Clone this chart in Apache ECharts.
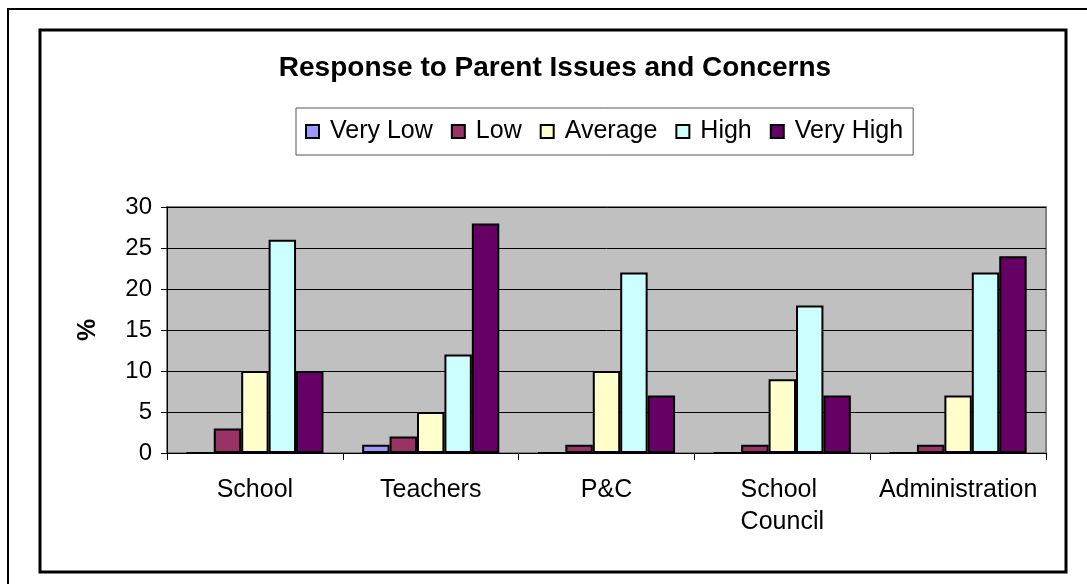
<!DOCTYPE html>
<html>
<head>
<meta charset="utf-8">
<script src="https://cdn.jsdelivr.net/npm/echarts@6/dist/echarts.min.js"></script>
<style>
html,body{margin:0;padding:0;background:#fff;}
#chart{width:1087px;height:584px;}
</style>
</head>
<body>
<div id="chart"></div>
<script>
const categories = ['School', 'Teachers', 'P&C', 'School Council', 'Administration'];
const seriesNames = ['Very Low', 'Low', 'Average', 'High', 'Very High'];
const veryLow = [0, 1, 0, 0, 0];
const low = [3, 2, 1, 1, 1];
const average = [10, 5, 10, 9, 7];
const high = [26, 12, 22, 18, 22];
const veryHigh = [10, 28, 7, 7, 24];
const yTicks = [0, 5, 10, 15, 20, 25, 30];
const colors = ['#9999FF', '#993366', '#FFFFCC', '#CCFFFF', '#660066'];

const values = [veryLow, low, average, high, veryHigh];
const FONT = '"Liberation Sans", Arial, sans-serif';

const chart = echarts.init(document.getElementById('chart'), null, {renderer: 'canvas'});
chart.setOption({
  animation: false,
  backgroundColor: '#ffffff',
  textStyle: {fontFamily: FONT, color: '#000'},
  graphic: [
    {type: 'rect', shape: {x: 8, y: 9, width: 1100, height: 600}, style: {fill: 'none', stroke: '#000', lineWidth: 2}, silent: true, z: 0},
    {type: 'rect', shape: {x: 40, y: 30, width: 1026, height: 542}, style: {fill: 'none', stroke: '#000', lineWidth: 3}, silent: true, z: 0},
    {type: 'text', x: 555, y: 68, style: {text: 'Response to Parent Issues and Concerns', font: 'bold 28px ' + FONT, fill: '#000', align: 'center', verticalAlign: 'middle'}, silent: true}
  ],
  legend: {
    data: seriesNames,
    left: 296,
    top: 108,
    padding: [11, 10, 11, 9],
    borderColor: '#555',
    borderWidth: 1,
    backgroundColor: '#fff',
    itemWidth: 13,
    itemHeight: 13,
    itemGap: 18,
    icon: 'rect',
    itemStyle: {borderColor: '#000', borderWidth: 2},
    textStyle: {fontFamily: FONT, fontSize: 25, color: '#000', padding: [0, 0, 0, 6]},
    selectedMode: false
  },
  grid: {
    left: 167, right: 41, top: 207, bottom: 131,
    show: true, backgroundColor: '#C0C0C0', borderColor: '#808080', borderWidth: 2,
    containLabel: false
  },
  xAxis: {
    type: 'category',
    data: categories,
    axisLine: {lineStyle: {color: '#000', width: 1}},
    axisTick: {show: true, length: 7, lineStyle: {color: '#000'}},
    axisLabel: {fontFamily: FONT, fontSize: 25, color: '#000', margin: 21, width: 163, overflow: 'break', lineHeight: 32, interval: 0}
  },
  yAxis: {
    type: 'value',
    min: yTicks[0], max: yTicks[yTicks.length - 1], interval: 5,
    name: '%', nameLocation: 'middle', nameGap: 66, nameRotate: 90,
    nameTextStyle: {fontFamily: FONT, fontSize: 25, fontWeight: 'bold', color: '#000'},
    axisLine: {show: true, lineStyle: {color: '#000', width: 1}},
    axisTick: {show: true, length: 6, lineStyle: {color: '#000'}},
    axisLabel: {fontFamily: FONT, fontSize: 24, color: '#000', margin: 15},
    splitLine: {show: true, lineStyle: {color: '#000', width: 1}}
  },
  series: seriesNames.map((n, i) => ({
    name: n,
    type: 'bar',
    data: values[i],
    barGap: '0%',
    barCategoryGap: '22%',
    itemStyle: {color: colors[i], borderColor: '#000', borderWidth: 2}
  }))
});
</script>
</body>
</html>
